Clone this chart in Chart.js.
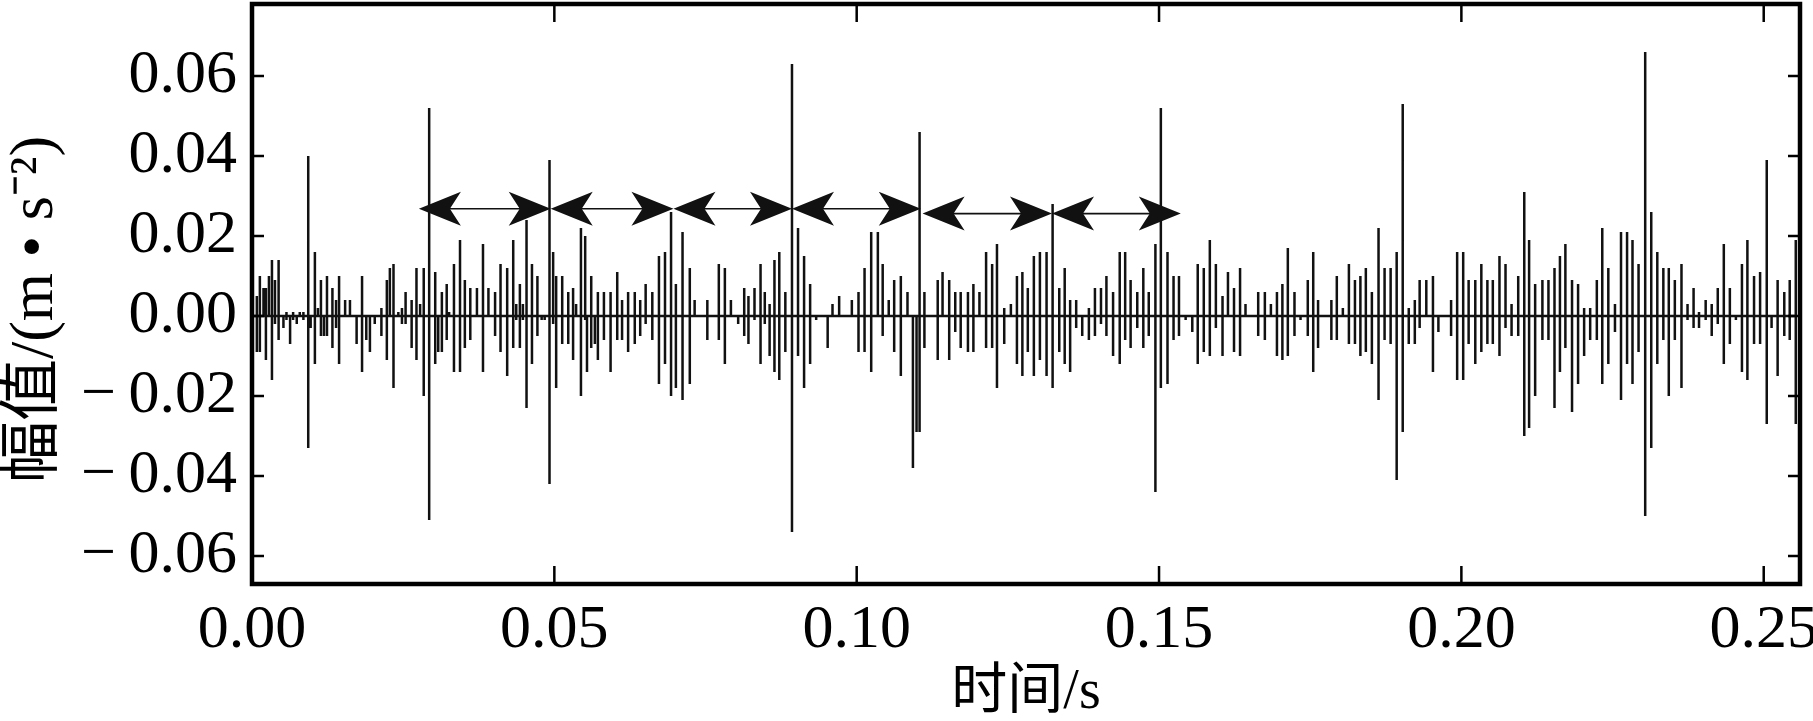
<!DOCTYPE html>
<html>
<head>
<meta charset="utf-8">
<script src="https://cdn.jsdelivr.net/npm/chart.js@4.4.0/dist/chart.umd.min.js"></script>
<style>
  html, body { margin: 0; padding: 0; background: #fff; }
  #wrap { width: 1813px; height: 721px; }
</style>
</head>
<body>
<div id="wrap"><canvas id="chart-signal"></canvas></div>
<script>
// time of each vertical stroke of the trace, ms
const strokeTime = [
  0.0, 0.8, 1.3, 1.9, 2.3, 2.8, 3.3, 3.8, 4.4, 5.2, 5.7, 6.3, 6.8, 7.4, 7.9, 8.5, 9.3, 9.7, 10.4, 10.9,
  11.4, 11.9, 12.4, 13.3, 13.9, 14.4, 15.4, 16.2, 17.3, 18.2, 18.9, 19.5, 20.3, 21.4, 22.3, 22.8, 23.4, 24.2, 24.8, 25.4,
  26.4, 27.2, 27.8, 28.4, 29.3, 30.3, 30.8, 31.4, 32.2, 32.6, 33.4, 34.4, 35.2, 36.1, 37.2, 38.2, 39.1, 40.2, 41.1, 42.2,
  43.2, 43.7, 44.3, 44.8, 45.4, 46.3, 47.2, 47.9, 48.4, 49.2, 49.8, 50.3, 51.3, 52.3, 53.1, 53.6, 54.4, 55.1, 55.4, 56.1,
  56.7, 57.2, 58.2, 59.3, 60.4, 61.2, 62.2, 63.3, 64.2, 65.1, 66.2, 67.3, 68.3, 69.3, 70.1, 71.2, 72.4, 73.2, 75.3, 77.2,
  78.2, 79.2, 80.4, 81.4, 82.1, 83.1, 84.1, 84.8,
  85.6, 86.4, 87.2, 88.2, 89.3, 90.3, 91.3, 92.3, 93.3, 95.2, 96.0, 97.1, 99.2, 100.3, 101.3, 102.4, 103.5, 104.3, 105.3, 106.2,
  107.3, 108.4, 109.3, 109.9, 110.4, 111.2, 113.4, 114.2, 115.3, 116.3, 117.2, 118.4, 119.3, 120.3, 121.4, 122.4, 123.2, 124.4, 125.5, 126.5,
  127.4,
  128.3, 129.3, 130.3, 131.4, 132.4, 133.5, 134.4, 135.3, 136.3, 137.3, 138.4, 139.4, 140.4, 141.3, 142.4, 143.5, 144.4, 145.3, 146.4, 147.4,
  148.3, 149.4, 150.3, 151.4, 152.4, 153.3, 154.4, 155.5, 156.4, 157.4, 158.4, 159.4, 160.5, 161.4, 162.4, 163.4, 164.3, 166.4, 167.5, 168.5,
  169.5, 170.4,
  171.3, 172.4, 173.4, 174.6, 175.5, 176.3, 178.5, 179.4, 180.4, 181.4, 182.4, 183.3, 184.2, 185.2, 186.3, 187.3, 188.3, 189.3, 190.3, 191.3,
  192.3, 193.1, 194.2, 195.3, 196.2, 198.3, 199.3, 200.3, 201.2, 202.3, 203.3, 204.3, 205.2, 206.3, 207.3, 208.3, 209.4, 210.4, 211.2, 212.2,
  213.4, 214.4, 215.4, 216.3, 217.2, 218.3, 219.3, 220.3, 221.3, 222.4, 223.3, 224.3, 225.4, 226.4, 227.4, 228.3, 229.3, 230.4, 231.4, 232.4,
  233.4, 234.3, 235.3, 236.4, 237.4, 238.4, 239.3, 240.4, 241.4, 242.4, 243.4, 244.4, 245.4, 246.4, 247.3, 248.4, 249.4, 250.5, 251.3, 252.3,
  253.4, 254.3, 255.3
];

// top of each stroke, m/s^2
const strokeHigh = [
  0, 0.005, 0.010, 0.007, 0.007, 0.010, 0.014, 0.009, 0.014, 0, 0.001, 0, 0.001, 0, 0.001, 0.001, 0.040, 0, 0.016, 0.002,
  0.009, 0, 0.010, 0.007, 0.004, 0.010, 0.004, 0.004, 0, 0.010, 0, 0, 0, 0.002, 0.009, 0.012, 0.013, 0.001, 0.002, 0.006,
  0.004, 0.012, 0.003, 0.012, 0.052, 0.011, 0, 0.006, 0.008, 0.001, 0.013, 0.019, 0.009, 0.007, 0.007, 0.018, 0.007, 0.006, 0.013, 0.012,
  0.019, 0.003, 0.008, 0.003, 0.024, 0.013, 0.010, 0, 0, 0.039, 0.016, 0.010, 0.010, 0.006, 0.007, 0.003, 0.022, 0.020, 0, 0.010,
  0, 0.006, 0.006, 0.006, 0.011, 0.004, 0.006, 0.006, 0.004, 0.008, 0.006, 0.015, 0.016, 0.026, 0.008, 0.021, 0.012, 0.004, 0.004, 0.013,
  0.012, 0.004, 0, 0.007, 0.005, 0.007, 0.013, 0.006,
  0.003, 0.014, 0.016, 0.006, 0.063, 0.022, 0.015, 0.008, 0, 0, 0.003, 0.005, 0.004, 0.006, 0.012, 0.021, 0.021, 0.013, 0.004, 0.009,
  0.010, 0.006, 0, 0, 0.046, 0.006, 0.009, 0.011, 0.009, 0.006, 0.006, 0.006, 0.008, 0.006, 0.016, 0.013, 0.018, 0.002, 0.003, 0.010,
  0.011,
  0.007, 0.015, 0.016, 0.016, 0.028, 0.007, 0.012, 0.004, 0.004, 0, 0.002, 0.007, 0.007, 0.010, 0.006, 0.016, 0.016, 0.009, 0.006, 0.012,
  0.006, 0.018, 0.052, 0.016, 0.010, 0.010, 0, 0, 0.013, 0.012, 0.019, 0.013, 0.005, 0.011, 0.007, 0.012, 0.003, 0.006, 0.006, 0.003,
  0.006, 0.008,
  0.017, 0.006, 0, 0.009, 0.016, 0.004, 0.004, 0.010, 0.002, 0.013, 0.009, 0.010, 0.012, 0.006, 0.022, 0.012, 0.012, 0.016, 0.053, 0.002,
  0.004, 0.009, 0.009, 0.010, 0, 0.004, 0.016, 0.016, 0.009, 0.009, 0.013, 0.009, 0.009, 0.015, 0.013, 0.003, 0.010, 0.031, 0.019, 0.008,
  0.009, 0.009, 0.012, 0.015, 0.018, 0.009, 0.008, 0.002, 0.002, 0.009, 0.022, 0.012, 0.003, 0.021, 0.021, 0.019, 0.013, 0.066, 0.026, 0.016,
  0.012, 0.012, 0.009, 0.013, 0.003, 0.007, 0.001, 0.004, 0.003, 0.007, 0.018, 0.007, 0, 0.013, 0.019, 0.010, 0.011, 0.039, 0, 0.009,
  0.006, 0.009, 0.019
];

// bottom of each stroke, m/s^2
const strokeLow = [
  -0.011, -0.009, -0.009, 0, -0.011, 0, -0.016, -0.002, -0.006, -0.003, -0.001, -0.007, -0.001, -0.002, 0, -0.001, -0.033, -0.003, -0.012, 0,
  -0.005, -0.005, -0.005, -0.008, -0.003, -0.012, 0, 0, -0.007, -0.014, -0.006, -0.009, -0.002, -0.005, -0.011, 0, -0.018, 0, -0.002, -0.002,
  -0.008, -0.011, 0, -0.020, -0.051, -0.012, -0.009, -0.009, -0.006, 0, -0.014, -0.014, -0.008, -0.006, 0, -0.014, 0, -0.005, -0.009, -0.015,
  -0.008, -0.001, -0.008, -0.001, -0.023, -0.012, -0.005, -0.001, -0.001, -0.042, -0.002, -0.018, -0.007, -0.007, -0.011, 0, -0.020, -0.001, -0.014, -0.008,
  -0.007, -0.011, -0.006, -0.014, -0.006, -0.006, -0.009, -0.007, -0.005, -0.002, -0.006, -0.017, -0.012, -0.020, -0.018, -0.021, -0.017, 0, -0.006, -0.006,
  -0.012, 0, -0.002, -0.005, -0.007, -0.001, -0.012, -0.002,
  -0.010, -0.014, -0.016, -0.009, -0.054, -0.010, -0.018, -0.012, -0.001, -0.008, 0, 0, 0, -0.009, -0.009, -0.014, 0, -0.005, 0, -0.009,
  -0.015, 0, -0.038, -0.029, -0.029, -0.008, -0.011, 0, -0.011, -0.004, -0.008, -0.009, -0.009, 0, -0.008, -0.008, -0.018, -0.007, 0, -0.012,
  -0.015,
  -0.009, -0.015, -0.011, -0.015, -0.018, -0.009, -0.012, -0.014, -0.003, -0.005, -0.006, -0.005, -0.002, -0.005, -0.010, -0.012, -0.006, -0.008, -0.003, -0.008,
  -0.005, -0.044, -0.018, -0.017, -0.006, -0.005, -0.001, -0.004, -0.012, -0.009, -0.010, -0.003, -0.010, 0, -0.009, -0.010, 0, -0.005, -0.006, 0,
  -0.010, -0.011,
  -0.010, -0.005, -0.001, -0.005, -0.014, -0.008, -0.006, -0.006, 0, -0.007, -0.007, -0.010, -0.009, -0.012, -0.021, -0.006, -0.007, -0.041, -0.029, -0.007,
  -0.007, -0.003, 0, -0.014, -0.004, -0.005, -0.016, -0.016, -0.007, -0.012, -0.009, -0.007, -0.007, -0.010, -0.003, -0.005, -0.005, -0.030, -0.028, -0.020,
  -0.006, -0.006, -0.023, -0.014, -0.008, -0.024, -0.017, -0.010, -0.006, -0.006, -0.017, -0.012, -0.004, -0.021, -0.012, -0.017, -0.009, -0.050, -0.033, -0.012,
  -0.006, -0.020, -0.006, -0.018, -0.001, -0.003, -0.003, -0.001, -0.005, -0.002, -0.012, -0.007, -0.001, -0.014, -0.016, -0.007, -0.007, -0.027, -0.003, -0.015,
  -0.005, -0.006, -0.027
];

// period arrows between impacts (s)
const arrowStart = [0.0276, 0.0494, 0.0697, 0.0893, 0.1109, 0.1323];
const arrowEnd = [0.0494, 0.0697, 0.0893, 0.1106, 0.1323, 0.1536];
const arrowLevel = [0.0268, 0.0268, 0.0268, 0.0268, 0.0256, 0.0256];

const serif = '"Liberation Serif", "Noto Sans CJK SC", serif';

var tracePoints = [];
strokeTime.forEach(function (t, i) {
    var s = t / 1000;
    tracePoints.push({x: s, y: 0}, {x: s, y: strokeHigh[i]}, {x: s, y: strokeLow[i]}, {x: s, y: 0});
});

function drawHead(ctx, tipX, tipY, dir) {
    const L = 42, H = 17, N = 31;
    ctx.beginPath();
    ctx.moveTo(tipX, tipY);
    ctx.lineTo(tipX - dir * L, tipY - H);
    ctx.lineTo(tipX - dir * N, tipY);
    ctx.lineTo(tipX - dir * L, tipY + H);
    ctx.closePath();
    ctx.fill();
}

const periodArrows = {
    id: 'periodArrows',
    afterDatasetsDraw(chart) {
        const {ctx, scales: {x, y}} = chart;
        ctx.save();
        ctx.strokeStyle = '#111';
        ctx.fillStyle = '#111';
        ctx.lineWidth = 1.6;
        arrowStart.forEach(function (a, i) {
            const x0 = x.getPixelForValue(a);
            const x1 = x.getPixelForValue(arrowEnd[i]);
            const py = y.getPixelForValue(arrowLevel[i]);
            ctx.beginPath();
            ctx.moveTo(x0 + 20, py);
            ctx.lineTo(x1 - 20, py);
            ctx.stroke();
            drawHead(ctx, x0, py, -1);
            drawHead(ctx, x1, py, 1);
        });
        ctx.restore();
    }
};

const frameTicks = {
    id: 'frameTicks',
    afterDraw(chart) {
        const {ctx, chartArea: a, scales: {x, y}} = chart;
        ctx.save();
        ctx.strokeStyle = '#000';
        ctx.lineWidth = 2.5;
        ctx.beginPath();
        x.ticks.forEach(function (tk) {
            const px = x.getPixelForValue(tk.value);
            ctx.moveTo(px, a.bottom); ctx.lineTo(px, a.bottom - 18);
            ctx.moveTo(px, a.top); ctx.lineTo(px, a.top + 18);
        });
        y.ticks.forEach(function (tk) {
            const py = y.getPixelForValue(tk.value);
            ctx.moveTo(a.left, py); ctx.lineTo(a.left + 12, py);
            ctx.moveTo(a.right, py); ctx.lineTo(a.right - 12, py);
        });
        ctx.stroke();
        ctx.lineWidth = 4.5;
        ctx.strokeRect(a.left, a.top, a.right - a.left, a.bottom - a.top);
        ctx.restore();
    }
};

const chartSignal = new Chart(document.getElementById('chart-signal'), {
    type: 'line',
    data: {
        datasets: [{
            data: tracePoints,
            borderColor: '#111',
            borderWidth: 2.5,
            pointRadius: 0,
            tension: 0,
            fill: false
        }]
    },
    options: {
        responsive: true,
        maintainAspectRatio: false,
        animation: false,
        layout: { padding: { top: 4, right: 13, bottom: 0, left: 0 } },
        plugins: { legend: { display: false }, tooltip: { enabled: false } },
        scales: {
            x: {
                type: 'linear',
                min: 0,
                max: 0.256,
                grid: { display: false, drawTicks: false },
                border: { display: false },
                ticks: {
                    stepSize: 0.05,
                    includeBounds: false,
                    maxRotation: 0,
                    padding: 10,
                    color: '#000',
                    font: { family: serif, size: 62 },
                    callback: function (v) { return v.toFixed(2); }
                },
                title: {
                    display: true,
                    text: '时间/s',
                    color: '#000',
                    font: { family: serif, size: 56, lineHeight: 1 },
                    padding: { top: 0, bottom: 0 }
                },
                afterFit: function (scale) {
                    scale.height = 137;
                    scale.paddingLeft = 0;
                    scale.paddingRight = 0;
                }
            },
            y: {
                min: -0.067,
                max: 0.078,
                grid: { display: false, drawTicks: false },
                border: { display: false },
                ticks: {
                    stepSize: 0.02,
                    includeBounds: false,
                    padding: 15,
                    color: '#000',
                    font: { family: serif, size: 62 },
                    callback: function (v) {
                        if (Math.abs(v) < 1e-9) return '0.00';
                        return v < 0 ? '\u2212\u2009' + Math.abs(v).toFixed(2) : v.toFixed(2);
                    }
                },
                title: {
                    display: true,
                    text: '幅值/(m • s⁻²)  ',
                    color: '#000',
                    font: { family: serif, size: 62, lineHeight: 1 },
                    padding: { top: 5, bottom: 0 }
                },
                afterFit: function (scale) {
                    scale.width = 252;
                    scale.paddingTop = 0;
                    scale.paddingBottom = 0;
                }
            }
        }
    },
    plugins: [periodArrows, frameTicks]
});
</script>
</body>
</html>
